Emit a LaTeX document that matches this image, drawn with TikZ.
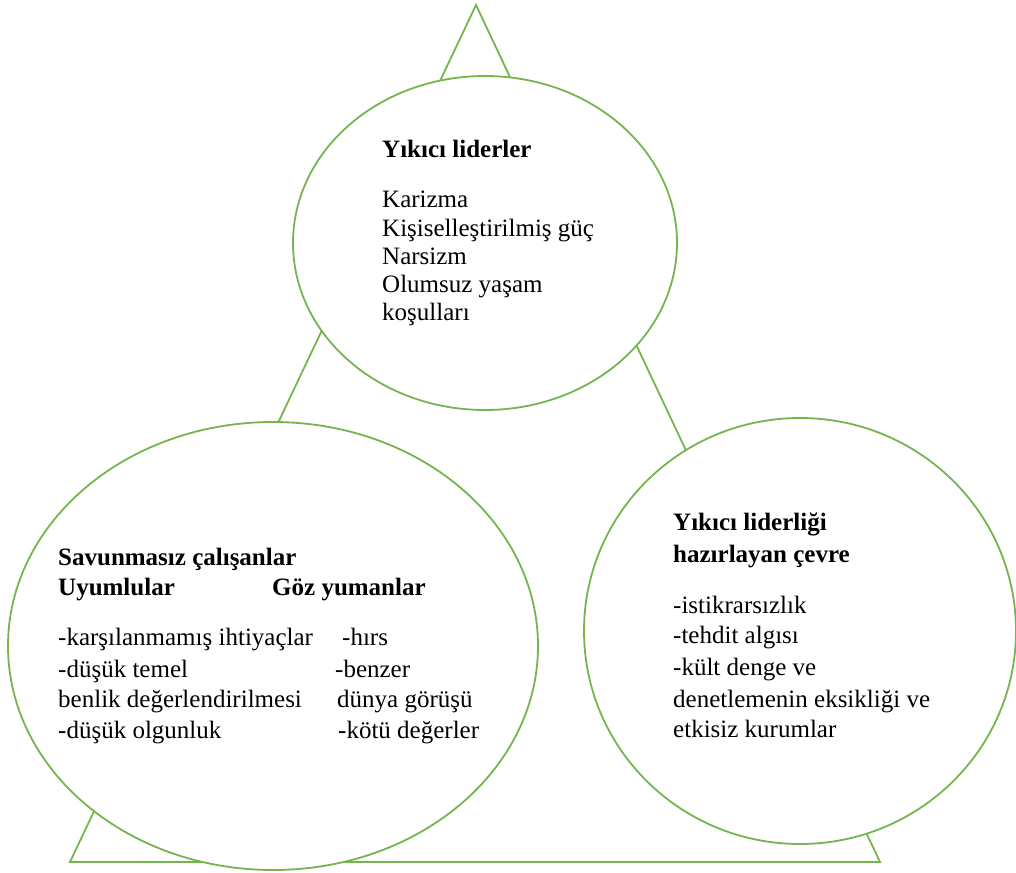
\documentclass[tikz,border=0pt]{standalone}
\usepackage{fontspec}
\setmainfont{Liberation Serif}
\usetikzlibrary{shapes.geometric}
\definecolor{lgreen}{RGB}{118,180,80}
\begin{document}
\begin{tikzpicture}[x=1pt,y=-1pt,
  blob/.style={ellipse, draw=lgreen, line width=1.8pt, fill=white, inner sep=0pt},
  tline/.style={draw=lgreen, line width=1.8pt, line join=miter},
  txt/.style={anchor=base west, inner sep=0pt, font=\fontsize{25}{29}\selectfont},
  btxt/.style={txt, font=\fontsize{25}{29}\selectfont\bfseries}]
\useasboundingbox (0,0) rectangle (1016,872);
% triangle
\coordinate (apex) at (476,5);
\coordinate (bl) at (70,862);
\coordinate (br) at (880,862);
\draw[tline] (apex) -- (bl) -- (br) -- cycle;
% ellipses
\node[blob, minimum width=384pt, minimum height=334pt] (topE) at (485,243) {};
\node[blob, minimum width=530pt, minimum height=448pt] (leftE) at (273,646) {};
\node[blob, minimum width=432pt, minimum height=426pt] (rightE) at (800,631) {};
% top texts
\node[btxt] (t0) at (382,157) {Yıkıcı liderler};
\node[txt] (t1) at (382,207) {Karizma};
\node[txt] (t2) at (382,236) {Kişiselleştirilmiş güç};
\node[txt] (t3) at (382,264) {Narsizm};
\node[txt] (t4) at (382,292) {Olumsuz yaşam};
\node[txt] (t5) at (382,320) {koşulları};
% left texts
\node[btxt] (l0) at (58,565) {Savunmasız çalışanlar};
\node[btxt] (l1) at (58,595) {Uyumlular};
\node[btxt] (l2) at (272,595) {Göz yumanlar};
\node[txt] (l3) at (58,645) {-karşılanmamış ihtiyaçlar};
\node[txt] (l4) at (342,645) {-hırs};
\node[txt] (l5) at (58,677) {-düşük temel};
\node[txt] (l6) at (335,677) {-benzer};
\node[txt] (l7) at (58,707) {benlik değerlendirilmesi};
\node[txt] (l8) at (337,707) {dünya görüşü};
\node[txt] (l9) at (58,738) {-düşük olgunluk};
\node[txt] (l10) at (338,738) {-kötü değerler};
% right texts
\node[btxt] (r0) at (673,530) {Yıkıcı liderliği};
\node[btxt] (r1) at (673,562) {hazırlayan çevre};
\node[txt] (r2) at (673,613) {-istikrarsızlık};
\node[txt] (r3) at (673,643) {-tehdit algısı};
\node[txt] (r4) at (673,675) {-kült denge ve};
\node[txt] (r5) at (673,707) {denetlemenin eksikliği ve};
\node[txt] (r6) at (673,737) {etkisiz kurumlar};
\end{tikzpicture}
\end{document}
